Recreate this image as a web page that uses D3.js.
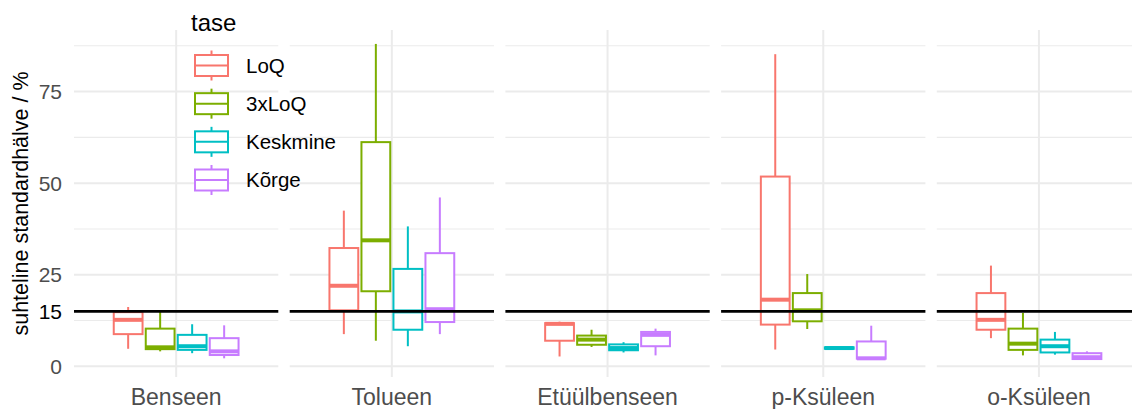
<!DOCTYPE html>
<html>
<head>
<meta charset="utf-8">
<script src="https://cdn.jsdelivr.net/npm/d3@7"></script>
<style>
  html, body { margin: 0; padding: 0; background: #fff; }
  svg { display: block; font-family: "Liberation Sans", Arial, sans-serif; }
</style>
</head>
<body>
<svg id="chart" width="1132" height="409"></svg>
<script>
// Compounds (facets) and concentration levels (legend groups)
const compounds = ["Benseen", "Tolueen", "Etüülbenseen", "p-Ksüleen", "o-Ksüleen"];
const levels = ["LoQ", "3xLoQ", "Keskmine", "Kõrge"];
const levelColors = ["#F8766D", "#7CAE00", "#00BFC4", "#C77CFF"];

// Box statistics per compound: [lower whisker, Q1, median, Q3, upper whisker]
const statsLoQ = [
  [4.8, 8.8, 12.7, 14.8, 16.2],
  [8.8, 15.3, 22.0, 32.3, 42.5],
  [2.7, 7.0, 11.6, 11.8, 12.2],
  [4.6, 11.4, 18.2, 51.8, 85.2],
  [7.7, 10.0, 12.7, 20.0, 27.5]
];
const stats3xLoQ = [
  [4.1, 4.7, 5.2, 10.3, 14.9],
  [7.0, 20.5, 34.4, 61.2, 88.0],
  [5.3, 5.9, 7.3, 8.4, 10.0],
  [10.2, 12.3, 15.3, 20.0, 25.2],
  [3.0, 4.5, 6.2, 10.3, 14.6]
];
const statsKeskmine = [
  [3.6, 4.5, 5.5, 8.6, 11.5],
  [5.5, 10.0, 15.0, 26.6, 38.2],
  [3.8, 4.4, 5.0, 6.0, 6.6],
  [4.8, 4.8, 5.0, 5.2, 5.2],
  [3.2, 3.8, 5.5, 7.3, 9.4]
];
const statsKorge = [
  [2.2, 3.1, 4.1, 7.7, 11.2],
  [8.8, 12.1, 15.6, 30.9, 46.1],
  [3.0, 5.5, 8.6, 9.4, 10.3],
  [2.1, 2.1, 2.2, 6.8, 11.1],
  [1.8, 2.0, 2.5, 3.6, 4.1]
];

// Axis ticks, grid and reference level
const yTickValues = [0, 15, 25, 50, 75];
const yMajorGrid = [0, 25, 50, 75];
const yMinorGrid = [12.5, 37.5, 62.5, 87.5];
const referenceLevel = 15;

const statsByLevel = [statsLoQ, stats3xLoQ, statsKeskmine, statsKorge];

const boxes = [];
compounds.forEach((c, ci) => {
  levels.forEach((lv, li) => {
    const s = statsByLevel[li][ci];
    boxes.push({ compound: c, level: lv, lo: s[0], q1: s[1], med: s[2], q3: s[3], hi: s[4] });
  });
});

const svg = d3.select("#chart");

// Layout
const panelTop = 30, panelBottom = 377;
const panelWidth = 204.3, panelGap = 11.4, firstPanelLeft = 74;

const facetX = d3.scaleBand()
  .domain(compounds)
  .range([firstPanelLeft, firstPanelLeft + 5 * panelWidth + 4 * panelGap])
  .paddingInner(panelGap / (panelWidth + panelGap))
  .paddingOuter(0);

const dodgeX = d3.scaleBand()
  .domain(levels)
  .range([-64, 64])
  .paddingInner(0.1)
  .paddingOuter(0.05);

const y = d3.scaleLinear().domain([-2.9, 91.8]).range([panelBottom, panelTop]);
const color = d3.scaleOrdinal().domain(levels).range(levelColors);

const gridColor = "#EBEBEB";

// Panels: grid, reference line, boxes
const panels = svg.selectAll("g.panel")
  .data(compounds)
  .join("g")
  .attr("class", "panel")
  .attr("transform", d => `translate(${facetX(d)},0)`);

panels.each(function (comp) {
  const g = d3.select(this);
  const w = facetX.bandwidth();
  const cx = w / 2;

  g.selectAll("line.minor").data(yMinorGrid).join("line")
    .attr("x1", 0).attr("x2", w)
    .attr("y1", d => y(d)).attr("y2", d => y(d))
    .attr("stroke", gridColor).attr("stroke-width", 1.1);

  g.selectAll("line.major").data(yMajorGrid).join("line")
    .attr("x1", 0).attr("x2", w)
    .attr("y1", d => y(d)).attr("y2", d => y(d))
    .attr("stroke", gridColor).attr("stroke-width", 2);

  g.append("line")
    .attr("x1", cx).attr("x2", cx)
    .attr("y1", panelTop).attr("y2", panelBottom)
    .attr("stroke", gridColor).attr("stroke-width", 2);

  const items = boxes.filter(b => b.compound === comp);
  const bg = g.selectAll("g.box").data(items).join("g")
    .attr("class", "box")
    .attr("transform", d => `translate(${cx + dodgeX(d.level)},0)`);
  const bw = dodgeX.bandwidth();

  bg.append("line")
    .attr("x1", bw / 2).attr("x2", bw / 2)
    .attr("y1", d => y(d.hi)).attr("y2", d => y(d.q3))
    .attr("stroke", d => color(d.level)).attr("stroke-width", 2);
  bg.append("line")
    .attr("x1", bw / 2).attr("x2", bw / 2)
    .attr("y1", d => y(d.q1)).attr("y2", d => y(d.lo))
    .attr("stroke", d => color(d.level)).attr("stroke-width", 2);
  bg.append("rect")
    .attr("x", 0).attr("width", bw)
    .attr("y", d => y(d.q3))
    .attr("height", d => Math.max(0, y(d.q1) - y(d.q3)))
    .attr("fill", "#fff")
    .attr("stroke", d => color(d.level)).attr("stroke-width", 2);
  bg.append("line")
    .attr("x1", 0).attr("x2", bw)
    .attr("y1", d => y(d.med)).attr("y2", d => y(d.med))
    .attr("stroke", d => color(d.level)).attr("stroke-width", 4);

  g.append("line")
    .attr("x1", 0).attr("x2", w)
    .attr("y1", y(referenceLevel)).attr("y2", y(referenceLevel))
    .attr("stroke", "#000").attr("stroke-width", 2.6);

  g.append("text")
    .attr("x", cx).attr("y", 405)
    .attr("text-anchor", "middle")
    .attr("font-size", 23)
    .attr("fill", "#4D4D4D")
    .text(comp);
});

// Y axis tick labels
svg.append("g").selectAll("text")
  .data(yTickValues)
  .join("text")
  .attr("x", 62)
  .attr("y", d => y(d))
  .attr("dy", "0.36em")
  .attr("text-anchor", "end")
  .attr("font-size", 21)
  .attr("fill", d => d === referenceLevel ? "#000" : "#4D4D4D")
  .text(d => d);

// Y axis title
svg.append("text")
  .attr("transform", `translate(28,${(panelTop + panelBottom) / 2}) rotate(-90)`)
  .attr("text-anchor", "middle")
  .attr("font-size", 21.5)
  .attr("fill", "#000")
  .text("suhteline standardhälve / %");

// Legend
const legend = svg.append("g");
legend.append("text")
  .attr("x", 191).attr("y", 31)
  .attr("font-size", 24)
  .attr("fill", "#000")
  .text("tase");

const rowY = d3.scalePoint().domain(levels).range([65.5, 180]);
const keys = legend.selectAll("g.key").data(levels).join("g")
  .attr("class", "key")
  .attr("transform", d => `translate(195,${rowY(d)})`);
keys.append("line")
  .attr("x1", 16.5).attr("x2", 16.5).attr("y1", -15).attr("y2", 15)
  .attr("stroke", d => color(d)).attr("stroke-width", 2);
keys.append("rect")
  .attr("x", 0).attr("y", -10.5).attr("width", 33).attr("height", 21)
  .attr("fill", "#fff")
  .attr("stroke", d => color(d)).attr("stroke-width", 2);
keys.append("line")
  .attr("x1", 0).attr("x2", 33).attr("y1", 0).attr("y2", 0)
  .attr("stroke", d => color(d)).attr("stroke-width", 2);
keys.append("text")
  .attr("x", 51).attr("y", 0).attr("dy", "0.36em")
  .attr("font-size", 20.5)
  .attr("fill", "#000")
  .text(d => d);
</script>
</body>
</html>
